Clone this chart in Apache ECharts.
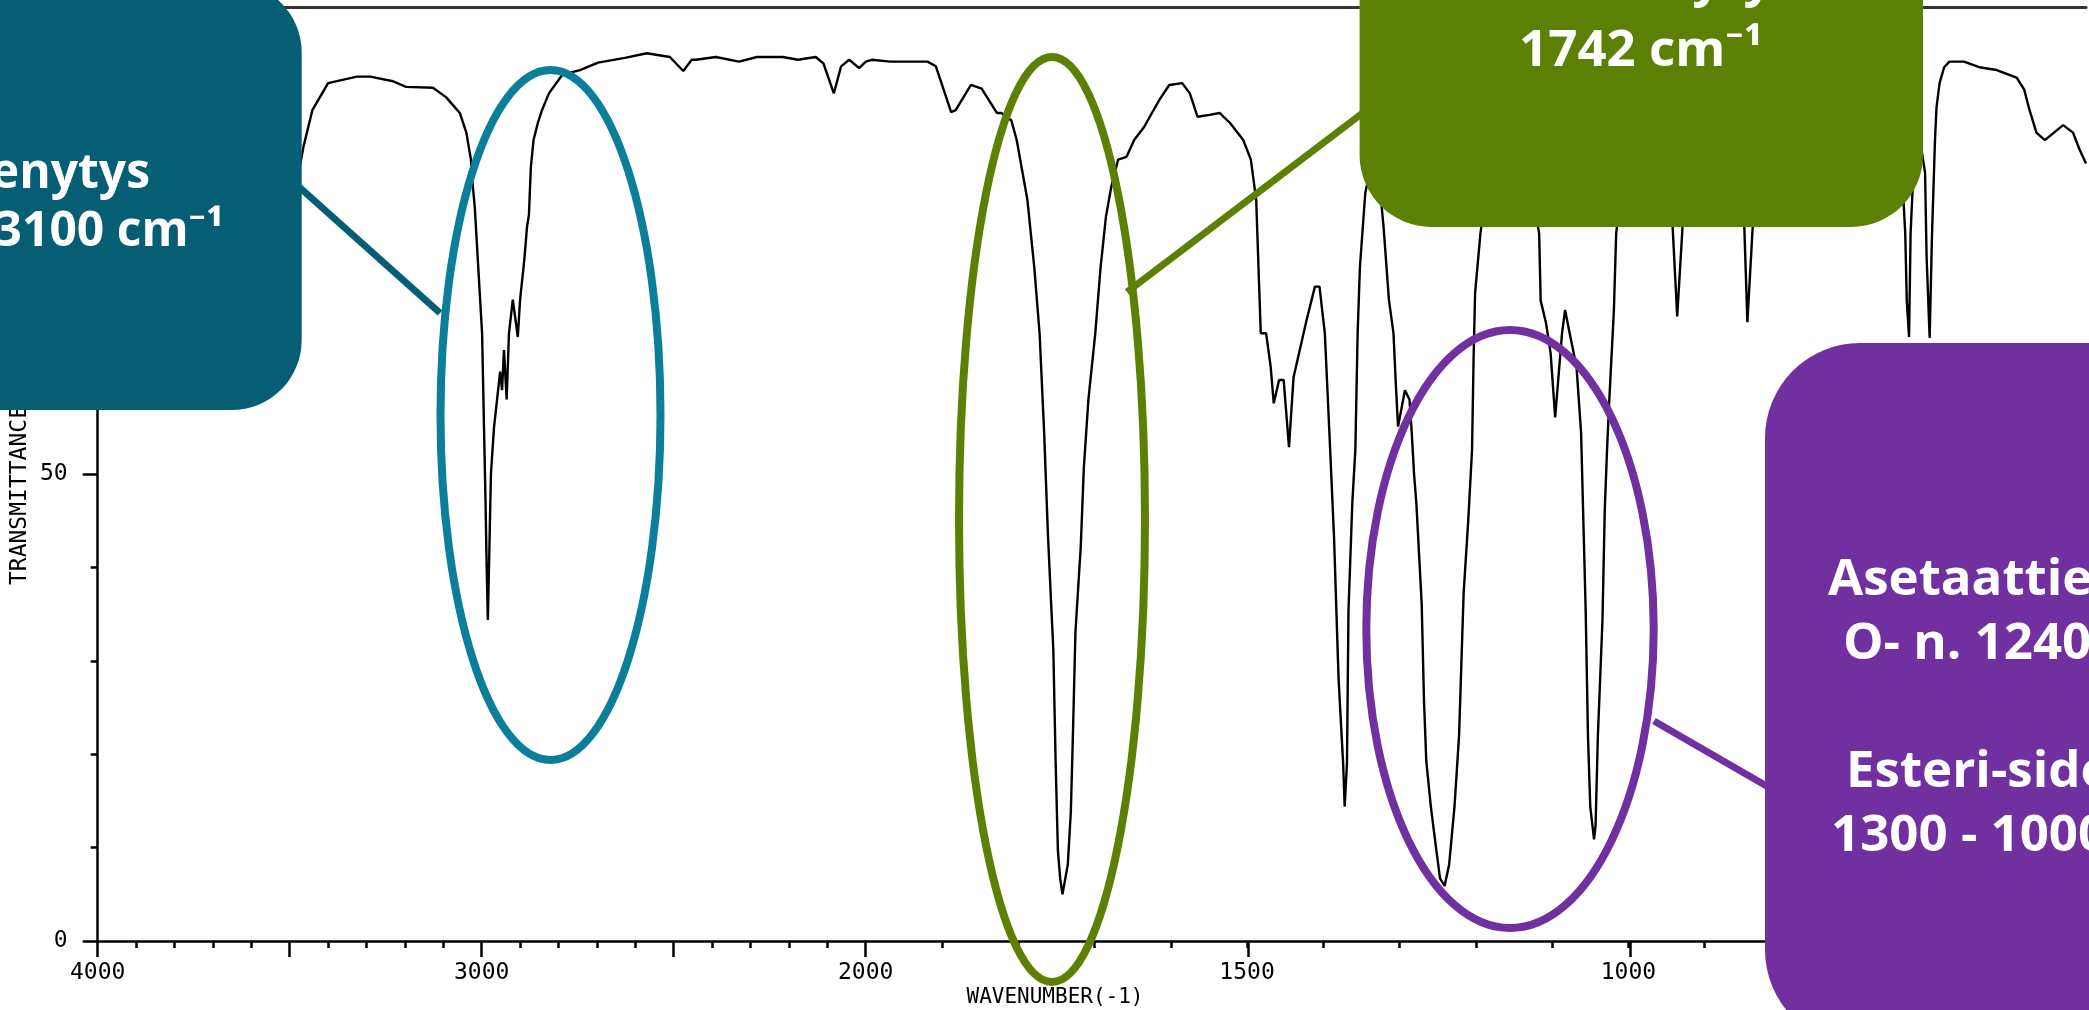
<!DOCTYPE html>
<html>
<head>
<meta charset="utf-8">
<script src="https://cdn.jsdelivr.net/npm/echarts@6/dist/echarts.min.js"></script>
<style>
html,body{margin:0;padding:0;background:#fff;}
#chart{width:2089px;height:1010px;}
</style>
</head>
<body>
<div id="chart"></div>
<script>
// ---- data (wavenumber in cm-1, transmittance in %) ----
const wnLeft = [4000,3900,3800,3700,3620,3560,3520,3490,3478,3464,3441,3400,3325,3290,3231,3197,3127,3093,3057,3040,3028,3023,3018,3010,2999,2994,2990,2987,2984,2980,2976,2968,2960,2952,2947,2942,2935,2929,2919,2906,2900,2889,2882,2877,2872,2865,2854,2843,2825,2790,2744,2697,2627,2570,2510,2475,2453,2442,2390,2330,2283,2216,2176,2130,2110,2083,2064,2043,2017,2000];
const tLeft = [89.5,90,90.5,90.5,90,88.5,86,83,82,85.1,89,91.9,92.6,92.6,92.1,91.5,91.4,90.4,88.7,86.6,83.7,80.8,78.6,72.9,65.1,55,47,40,34.4,42,50,55,58,61,59,63.3,58,65.1,68.7,64.7,68.7,73,76.5,77.8,82.9,85.8,87.6,89,90.8,92.8,93.3,94.1,94.6,95.1,94.7,93.2,94.4,94.4,94.7,94.2,94.7,94.7,94.4,94.7,94,90.8,93.7,94.4,93.5,94.2];
const wnRight = [2000,1992,1968,1919,1908,1899,1888,1882,1862,1848,1828,1822,1809,1802,1788,1779,1772,1766,1761,1754,1751,1748,1745,1742,1735,1731,1728,1725,1718,1714,1708,1699,1692,1685,1678,1669,1658,1648,1635,1615,1602,1585,1575,1565,1549,1536,1522,1505,1495,1488,1485,1482,1475,1469,1465,1458,1452,1445,1439,1422,1411,1405,1398,1392,1386,1380,1374,1372,1369,1367,1362,1358,1355,1352,1345,1335,1325,1321,1314,1308,1305,1302,1293,1287,1284,1281,1278,1271,1268,1265,1259,1253,1247,1241,1235,1228,1222,1219,1216,1210,1205,1203,1201,1194,1185,1165,1150,1130,1117,1115,1108,1102,1096,1087,1083,1077,1068,1062,1056,1053,1050,1045,1043,1040,1034,1031,1028,1025,1019,1016,1005,985,960,945,942,936,929,920,890,865,852,848,844,837,825,810,795,787,778,750,700,665,650,640,637,635,632,630,626,623,618,615,611,609,605,602,598,596,592,586,579,560,540,517,491,481,474,465,454,430,417,409,400];
const tRight = [94.2,94.4,94.2,94.2,93.7,91.5,88.8,89.0,91.7,91.3,88.7,88.7,87.9,85.8,79.4,72.2,65.1,54.4,43.4,31.2,19.3,9.7,6.7,5.0,8.2,13.9,23.1,33.1,42.3,50.7,58,65.1,72.2,77.6,80.8,83.7,84.0,85.8,87.2,90.1,91.7,91.9,90.8,88.3,88.5,88.7,87.6,85.8,83.7,79.4,72.2,65.1,65.1,61.5,57.6,60.1,60.1,52.9,60.4,66.5,70.1,70.1,65.1,54.4,43.4,28.1,19.0,14.4,19.0,35.4,46.9,52.6,65.1,72.2,80.1,84,80,76.5,68.7,65.1,59.8,55.1,59.0,58.0,54.4,50,46.9,36.1,25.8,19.3,14.4,10.5,6.7,5.9,8.2,14.4,22.0,29.7,37.3,45.0,52.6,62.3,69.4,75.8,81,85,84,82,75.8,68.6,66.2,63,56.1,65.1,67.6,65.1,61.5,54.4,35.4,22.0,14.4,10.9,12.4,22,34.3,46.1,52.6,58,67.6,75.8,84,88,86,80,76.5,66.9,76.5,84,88,85,80,76.5,66.3,76.5,84,86,82,79,84,89,90,88,85,80.4,75.8,68.6,64.7,75.8,82.9,87.2,86,84.4,82.3,73.3,64.6,75.4,85.8,89.3,91.9,93.6,94.2,94.2,93.6,93.3,92.5,91.2,89.0,86.6,85.8,87.4,86.6,84.9,83.3];
const xLabelsLeft = [4000, 3000, 2000];
const xLabelsRight = [1500, 1000, 500];
const yLabels = [0, 50];
const yTitle = 'TRANSMITTANCE(%)';
const xTitle = 'WAVENUMBER(-1)';
const tealLines = ['venytys', '3100 cm\u207B\u00B9'];
const greenLines = ['C=O venytys', '1742 cm\u207B\u00B9'];
const purpleLines = ['Asetaattiesterin C-', 'O- n. 1240 cm\u207B\u00B9', 'Esteri-sidos', '1300 - 1000 cm\u207B\u00B9'];

// ---- styling ----
const MONO = '"DejaVu Sans Mono", monospace';
const FAMILY = '"Open Sans", "Noto Sans", sans-serif';
const TEAL = '#055E73', TEAL_E = '#0B7E9A', GREEN = '#5B8003', PURPLE = '#7030A0';
const BL = 11.5; // baseline offset from text middle
const AX = { color: '#000', width: 2.5 };

function labelCfg(labels) {
  return {
    show: true, margin: 21, color: '#000', fontFamily: MONO, fontSize: 23,
    showMinLabel: true, showMaxLabel: true,
    formatter: v => labels.indexOf(v) >= 0 ? String(v) : ''
  };
}
function topBorder(grid, min, max) {
  return {
    type: 'value', gridIndex: grid, min: min, max: max, inverse: true, position: 'top',
    axisLine: { show: true, onZero: false, lineStyle: { color: '#333', width: 3 } },
    axisTick: { show: false }, axisLabel: { show: false }, splitLine: { show: false }
  };
}
function boxText(text, x, baseline, align, size) {
  const s = size || 51;
  return {
    type: 'text', x: x, y: baseline - BL * s / 51, z: 30,
    style: { text: text, fill: '#fff', font: 'bold ' + s + 'px ' + FAMILY,
      textAlign: align, align: align, textVerticalAlign: 'middle', verticalAlign: 'middle' }
  };
}

const chart = echarts.init(document.getElementById('chart'), null, { renderer: 'canvas' });
chart.setOption({
  animation: false,
  backgroundColor: '#fff',
  grid: [
    { left: 97.7, top: 7.5, width: 768, height: 933.5 },
    { left: 865.7, top: 7.5, right: 0, height: 933.5 },
    { left: 865.7, top: 7.5, width: 1147, height: 933.5 }
  ],
  xAxis: [
    { // 4000 - 2000 (compressed scale)
      type: 'value', gridIndex: 0, min: 2000, max: 4000, inverse: true, interval: 500, position: 'bottom',
      axisLine: { show: true, onZero: false, lineStyle: AX },
      axisTick: { show: true, length: 16, lineStyle: AX },
      minorTick: { show: true, splitNumber: 5, length: 7, lineStyle: AX },
      splitLine: { show: false }, minorSplitLine: { show: false },
      axisLabel: labelCfg(xLabelsLeft)
    },
    { // 2000 - 400 (expanded scale)
      type: 'value', gridIndex: 1, min: 400, max: 2000, inverse: true, interval: 100, position: 'bottom',
      axisLine: { show: true, onZero: false, lineStyle: AX },
      axisTick: { show: true, length: 7, lineStyle: AX },
      splitLine: { show: false },
      axisLabel: labelCfg(xLabelsRight)
    },
    { // long ticks every 500 on the expanded part
      type: 'value', gridIndex: 2, min: 500, max: 2000, inverse: true, interval: 500, position: 'bottom',
      axisLine: { show: false, onZero: false },
      axisTick: { show: true, length: 16, lineStyle: AX },
      axisLabel: { show: false }, splitLine: { show: false }
    },
    topBorder(0, 2000, 4000),
    topBorder(1, 400, 2000)
  ],
  yAxis: [
    {
      type: 'value', gridIndex: 0, min: 0, max: 100, interval: 50,
      axisLine: { show: true, onZero: false, lineStyle: AX },
      axisTick: { show: true, length: 15, lineStyle: AX },
      minorTick: { show: true, splitNumber: 5, length: 7, lineStyle: AX },
      splitLine: { show: false },
      axisLabel: { margin: 30, color: '#000', fontFamily: MONO, fontSize: 23,
        formatter: v => yLabels.indexOf(v) >= 0 ? String(v) : '' },
      name: yTitle, nameLocation: 'middle', nameRotate: 90, nameGap: 66,
      nameTextStyle: { color: '#000', fontFamily: MONO, fontSize: 23 }
    },
    { type: 'value', gridIndex: 1, min: 0, max: 100, show: false },
    { type: 'value', gridIndex: 2, min: 0, max: 100, show: false }
  ],
  series: [
    { type: 'line', xAxisIndex: 0, yAxisIndex: 0, showSymbol: false, symbol: 'none',
      lineStyle: { color: '#000', width: 2.4 }, data: wnLeft.map((w, i) => [w, tLeft[i]]) },
    { type: 'line', xAxisIndex: 1, yAxisIndex: 1, showSymbol: false, symbol: 'none',
      lineStyle: { color: '#000', width: 2.4 }, data: wnRight.map((w, i) => [w, tRight[i]]) }
  ],
  graphic: { elements: [
    { type: 'text', x: 1055, y: 998, z: 5,
      style: { text: xTitle, fill: '#000', font: '21px ' + MONO, textAlign: 'center', align: 'center',
        textVerticalAlign: 'middle', verticalAlign: 'middle' } },
    { type: 'ellipse', z: 20, shape: { cx: 550.5, cy: 415, rx: 110, ry: 345 }, style: { fill: 'none', stroke: TEAL_E, lineWidth: 8 } },
    { type: 'ellipse', z: 20, shape: { cx: 1052, cy: 519.5, rx: 93, ry: 462.5 }, style: { fill: 'none', stroke: GREEN, lineWidth: 8 } },
    { type: 'ellipse', z: 20, shape: { cx: 1510, cy: 629, rx: 143.7, ry: 299 }, style: { fill: 'none', stroke: PURPLE, lineWidth: 8 } },
    { type: 'line', z: 21, shape: { x1: 298, y1: 186, x2: 440, y2: 313 }, style: { stroke: TEAL, lineWidth: 7 } },
    { type: 'line', z: 21, shape: { x1: 1364, y1: 112, x2: 1127, y2: 292 }, style: { stroke: GREEN, lineWidth: 7 } },
    { type: 'line', z: 21, shape: { x1: 1654, y1: 721, x2: 1770, y2: 788 }, style: { stroke: PURPLE, lineWidth: 7 } },
    { type: 'rect', z: 25, shape: { x: -100, y: -17.5, width: 401.7, height: 427.5, r: 70 }, style: { fill: TEAL } },
    { type: 'rect', z: 25, shape: { x: 1359.6, y: -100, width: 563.4, height: 327, r: 72 }, style: { fill: GREEN } },
    { type: 'rect', z: 25, shape: { x: 1765, y: 343, width: 420, height: 702, r: 95 }, style: { fill: PURPLE } },
    boxText(tealLines[0], 150, 185, 'right', 48),
    boxText(tealLines[1], 224, 243, 'right', 48),
    boxText(greenLines[0], 1641, -7, 'center'),
    boxText(greenLines[1], 1641, 63, 'center'),
    boxText(purpleLines[0], 1828, 592, 'left'),
    boxText(purpleLines[1], 1843, 656, 'left'),
    boxText(purpleLines[2], 1846, 784, 'left'),
    boxText(purpleLines[3], 1831, 848, 'left')
  ] }
});
</script>
</body>
</html>
